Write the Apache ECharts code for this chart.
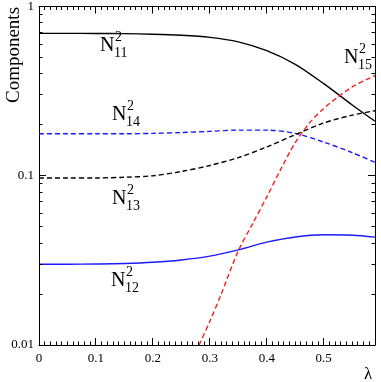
<!DOCTYPE html>
<html>
<head>
<meta charset="utf-8">
<script src="https://cdn.jsdelivr.net/npm/echarts@6/dist/echarts.min.js"></script>
<style>
  html, body { margin: 0; padding: 0; background: #fff; }
  #chart { width: 381px; height: 382px; }
</style>
</head>
<body>
<div id="chart"></div>
<script>
// sample points in lambda, shared by the first four curves
const lambda = [0, 0.05, 0.1, 0.15, 0.2, 0.25, 0.3, 0.35, 0.4, 0.45, 0.5, 0.55, 0.59]
const n11 = [0.694, 0.694, 0.693, 0.691, 0.686, 0.676, 0.657, 0.618, 0.548, 0.455, 0.35, 0.262, 0.21]
const n14 = [0.177, 0.177, 0.177, 0.177, 0.178, 0.18, 0.183, 0.186, 0.186, 0.178, 0.158, 0.137, 0.12]
const n13 = [0.097, 0.097, 0.097, 0.098, 0.1, 0.106, 0.115, 0.128, 0.148, 0.175, 0.205, 0.228, 0.242]
const n12 = [0.030, 0.030, 0.0301, 0.0303, 0.0308, 0.0318, 0.0335, 0.0365, 0.0405, 0.0435, 0.0448, 0.0445, 0.0434]
// N15 only starts above the bottom of the plot
const lambda15 = [0.281, 0.3, 0.32, 0.35, 0.375, 0.4, 0.425, 0.45, 0.475, 0.5, 0.525, 0.55, 0.575, 0.59]
const n15 = [0.01, 0.0138, 0.02, 0.036, 0.052, 0.075, 0.11, 0.157, 0.205, 0.25, 0.292, 0.335, 0.37, 0.39]

const xLabels = ['0', '0.1', '0.2', '0.3', '0.4', '0.5']
const yLabels = ['0.01', '0.1', '1']

// tick positions (drawn on all four sides of the box)
const xTicks = []
for (let i = 1; i < 59; i++) xTicks.push(i / 100)
const yTicks = []
for (let d = 0.01; d < 1; d *= 10) {
  for (let k = 2; k <= 10; k++) yTicks.push(+(k * d).toPrecision(2))
}

const serif = 'Liberation Serif'
const pairs = (xs, ys) => xs.map((x, i) => [x, ys[i]])

const chart = echarts.init(document.getElementById('chart'))

const fmtX = v => {
  const s = String(+Number(v).toFixed(2))
  return xLabels.includes(s) ? s : ''
}
const fmtY = v => {
  const s = String(+Number(v).toPrecision(2))
  return yLabels.includes(s) ? s : ''
}

const xAxisBase = (pos, labels) => ({
  type: 'value', min: 0, max: 0.59, interval: 0.1, position: pos,
  axisLine: { show: true, onZero: false, lineStyle: { color: '#000', width: 1 } },
  axisTick: { show: false },
  minorTick: { show: false },
  axisLabel: labels
    ? { show: true, color: '#000', fontFamily: serif, fontSize: 13, margin: 7, formatter: fmtX }
    : { show: false },
  splitLine: { show: false }
})

const yAxisBase = (pos, labels) => ({
  type: 'log', logBase: 10, min: 0.01, max: 1, position: pos,
  axisLine: { show: true, onZero: false, lineStyle: { color: '#000', width: 1 } },
  axisTick: { show: false },
  minorTick: { show: false },
  axisLabel: labels
    ? { show: true, color: '#000', fontFamily: serif, fontSize: 13, margin: 5, formatter: fmtY }
    : { show: false },
  splitLine: { show: false }
})

const line = (data, color, dashed) => ({
  type: 'line', data, xAxisIndex: 0, yAxisIndex: 0,
  showSymbol: false, symbol: 'none', smooth: 0.3,
  lineStyle: { color, width: 1.4, type: dashed ? [5, 3] : 'solid' }
})

const tickStyle = { stroke: '#000', lineWidth: 1 }
const snap = v => Math.round(v - 0.5) + 0.5

// inward ticks on bottom and top, placed through the x scale
const xTickSeries = {
  type: 'custom', xAxisIndex: 0, yAxisIndex: 0, silent: true, z: 5,
  data: xTicks.map(v => [v, 0.1]),
  renderItem: (params, api) => {
    const v = api.value(0)
    const len = Math.abs(v * 10 - Math.round(v * 10)) < 1e-6 ? 7 : 3.5
    const b = api.coord([v, 0.01])
    const t = api.coord([v, 1])
    const x = snap(b[0])
    return {
      type: 'group', children: [
        { type: 'line', shape: { x1: x, y1: b[1], x2: x, y2: b[1] - len }, style: tickStyle },
        { type: 'line', shape: { x1: x, y1: t[1], x2: x, y2: t[1] + len }, style: tickStyle }
      ]
    }
  }
}

// inward ticks on left and right, placed through the log y scale
const yTickSeries = {
  type: 'custom', xAxisIndex: 0, yAxisIndex: 0, silent: true, z: 5,
  data: yTicks.map(v => [0.3, v]),
  renderItem: (params, api) => {
    const v = api.value(1)
    const lg = Math.log10(v)
    const len = Math.abs(lg - Math.round(lg)) < 1e-6 ? 7 : 3.5
    const l = api.coord([0, v])
    const r = api.coord([0.59, v])
    const y = snap(l[1])
    return {
      type: 'group', children: [
        { type: 'line', shape: { x1: l[0], y1: y, x2: l[0] + len, y2: y }, style: tickStyle },
        { type: 'line', shape: { x1: r[0], y1: y, x2: r[0] - len, y2: y }, style: tickStyle }
      ]
    }
  }
}

const label = (x, y, sub) => ([
  { type: 'text', x, y, style: { text: 'N', font: '20px "Liberation Serif"', fill: '#000' } },
  { type: 'text', x: x + 15, y: y - 6, style: { text: '2', font: '14px "Liberation Serif"', fill: '#000' } },
  { type: 'text', x: x + 14, y: y + 10, style: { text: sub, font: '14px "Liberation Serif"', fill: '#000' } }
])

chart.setOption({
  animation: false,
  grid: { left: 39, right: 6, top: 5, bottom: 37 },
  xAxis: [xAxisBase('bottom', true), xAxisBase('top', false)],
  yAxis: [yAxisBase('left', true), yAxisBase('right', false)],
  series: [
    line(pairs(lambda, n11), '#000', false),
    line(pairs(lambda, n14), '#1a1aff', true),
    line(pairs(lambda, n13), '#000', true),
    line(pairs(lambda, n12), '#1a1aff', false),
    line(pairs(lambda15, n15), '#ff1a1a', true),
    xTickSeries,
    yTickSeries
  ],
  graphic: [
    ...label(100, 36, '11'),
    ...label(112, 105, '14'),
    ...label(112, 189, '13'),
    ...label(111, 271, '12'),
    ...label(344, 48, '15'),
    { type: 'text', x: 14, y: 55, rotation: Math.PI / 2,
      style: { text: 'Components', font: '19px "Liberation Serif"', fill: '#000', align: 'center', verticalAlign: 'middle' } },
    { type: 'text', x: 364, y: 366, style: { text: 'λ', font: '17px "Liberation Serif"', fill: '#000' } }
  ]
})
</script>
</body>
</html>
